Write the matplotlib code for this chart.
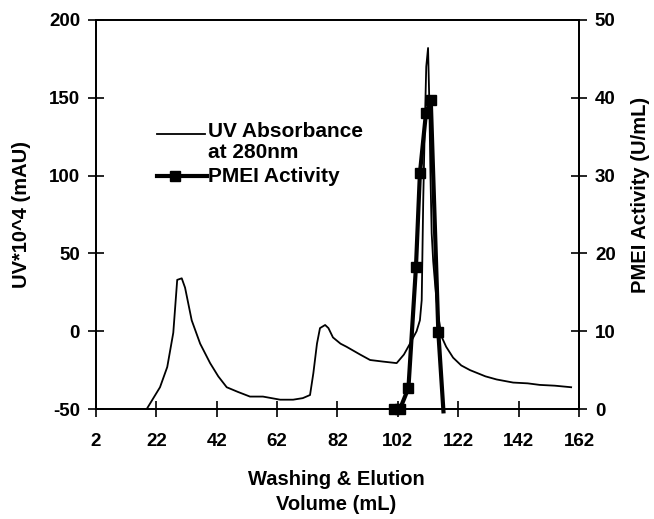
import matplotlib
matplotlib.use('Agg')
import matplotlib.pyplot as plt
from matplotlib.lines import Line2D

plt.rcParams.update({
    'font.family': ['Liberation Sans', 'DejaVu Sans'],
    'font.weight': 'bold',
    'font.size': 13.5,
    'axes.linewidth': 1.3,
    'axes.unicode_minus': False,
})

# UV absorbance trace (left axis)
uv_vol = [18.8, 23.2, 25.6, 27.6, 28.9, 30.4, 31.5, 33.7, 36.5, 39.8, 42.5, 45.3, 49, 53,
          57.3, 63, 67.3, 70.5, 72.9, 74, 75.2, 76.2, 77.9, 79, 80.5, 83, 85, 89.5, 92.8,
          97, 101.6, 104, 106, 108.2, 109.3, 109.9, 110.4, 110.9, 111.4, 112.0, 112.4,
          112.8, 113.2, 113.7, 114.3, 115.2, 116.5, 118, 120.3, 123, 125.9, 131, 134.7,
          140.2, 145, 149, 154, 159.4]
uv_abs = [-50, -36, -23, -1, 33, 34, 28, 7, -8, -20.5, -29, -36, -39, -42,
          -42, -44, -44, -43, -41, -27, -8, 2, 4, 2, -4, -8, -10, -15, -18.5,
          -19.5, -20.5, -15, -8, 0, 7, 20, 84, 130, 170, 182, 149,
          100, 63, 45, 31, 12, -3.6, -10, -17, -22, -25, -29, -31,
          -33, -33.5, -34.5, -35, -36]

# PMEI activity (right axis)
pm_vol = [100.7, 102.7, 105.5, 108, 109.3, 111.3, 112.9, 115.4, 117.1]
pm_act = [0, 0, 2.7, 18.3, 30.3, 38, 39.7, 9.9, -0.3]

xticks = [2, 22, 42, 62, 82, 102, 122, 142, 162]

fig = plt.figure(figsize=(6.54, 5.19), dpi=100)
ax = fig.add_axes([0.1468, 0.2119, 0.7385, 0.7496])
ax2 = ax.twinx()

ax.plot(uv_vol, uv_abs, color='black', lw=1.3)
ax2.plot(pm_vol, pm_act, color='black', lw=3, marker='s', ms=6.5,
         markevery=list(range(len(pm_vol) - 1)), clip_on=False, zorder=3)

ax.set_xlim(2, 162)
ax.set_ylim(-50, 200)
ax2.set_ylim(0, 50)
ax.set_xticks(xticks)
ax.set_yticks([-50, 0, 50, 100, 150, 200])
ax2.set_yticks([0, 10, 20, 30, 40, 50])

ax.tick_params(axis='x', direction='inout', length=11, width=1.2, pad=12)
ax.tick_params(axis='y', direction='inout', length=11, width=1.2, pad=6)
ax2.tick_params(axis='y', direction='inout', length=11, width=1.2, pad=6)

ax.set_ylabel('UV*10^4 (mAU)', fontsize=14.5, fontweight='bold')
ax.yaxis.set_label_coords(-0.135, 0.5)
ax2.set_ylabel('PMEI Activity (U/mL)', fontsize=14.5, fontweight='bold')
ax2.yaxis.set_label_coords(1.108, 0.55)
ax.set_xlabel('Washing & Elution\nVolume (mL)', fontsize=14.5, fontweight='bold',
              linespacing=1.35)
ax.xaxis.set_label_coords(0.497, -0.158)

# legend drawn by hand so the UV handle sits on the first text line
tr = ax.transAxes
ax.add_line(Line2D([0.126, 0.226], [0.707, 0.707], color='black', lw=1.3, transform=tr))
ax.add_line(Line2D([0.126, 0.230], [0.599, 0.599], color='black', lw=3, transform=tr))
ax.add_line(Line2D([0.163], [0.599], color='black', marker='s', ms=6.5, transform=tr))
ax.text(0.232, 0.699, 'UV Absorbance', transform=tr, fontsize=15, va='baseline')
ax.text(0.232, 0.645, 'at 280nm', transform=tr, fontsize=15, va='baseline')
ax.text(0.232, 0.584, 'PMEI Activity', transform=tr, fontsize=15, va='baseline')

fig.savefig('out.png', dpi=100)
